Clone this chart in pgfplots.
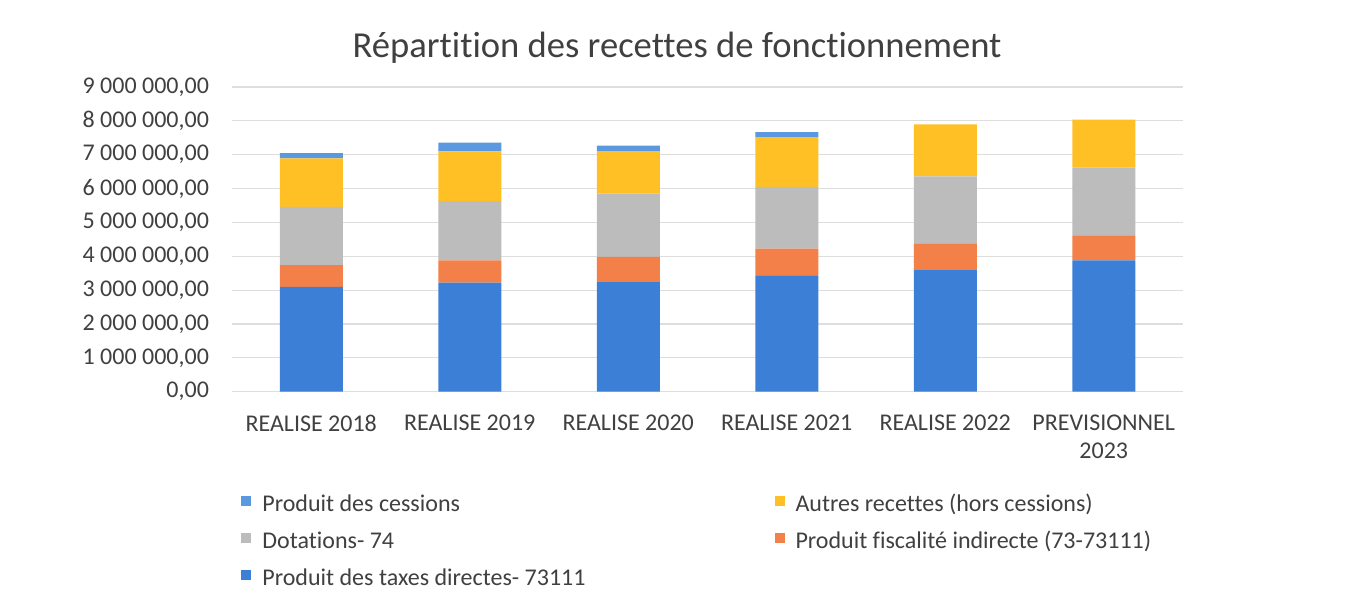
\documentclass[border=0pt]{standalone}
\usepackage{fontspec}
\setmainfont{Carlito}[Ligatures={NoCommon,NoContextual}]
\usepackage{pgfplots}
\pgfplotsset{compat=1.18}
\definecolor{cTax}{RGB}{59,127,214}
\definecolor{cFis}{RGB}{242,128,72}
\definecolor{cDot}{RGB}{188,188,188}
\definecolor{cAut}{RGB}{255,192,38}
\definecolor{cCes}{RGB}{90,152,224}
\definecolor{cTxt}{RGB}{64,64,64}
\definecolor{cGrid}{RGB}{222,222,222}
\begin{document}
\begin{tikzpicture}
\path (0,0) rectangle (677pt,300pt);
\begin{axis}[
  at={(116pt,104.15pt)}, anchor=south west,
  scale only axis, width=475.5pt, height=152.35pt,
  ybar stacked, bar width=31.5pt,
  xmin=-0.5, xmax=5.5, ymin=0, ymax=9000000,
  xtick=data,
  xticklabels={REALISE 2018, REALISE 2019, REALISE 2020, REALISE 2021, REALISE 2022, {PREVISIONNEL\\2023}},
  xticklabel style={align=center, font=\fontsize{12}{14}\selectfont, text=cTxt, yshift=-8pt},
  ytick={0,1000000,2000000,3000000,4000000,5000000,6000000,7000000,8000000,9000000},
  yticklabels={{0,00},{1 000 000,00},{2 000 000,00},{3 000 000,00},{4 000 000,00},{5 000 000,00},{6 000 000,00},{7 000 000,00},{8 000 000,00},{9 000 000,00}},
  yticklabel style={font=\fontsize{12}{14}\selectfont, text=cTxt, xshift=-8pt},
  scaled y ticks=false,
  major tick length=0pt,
  ymajorgrids, grid style={cGrid, line width=0.6pt},
  axis line style={draw=none},
  axis x line*=bottom, axis y line*=left,
  every axis title shift=0pt,
  title={Répartition des recettes de fonctionnement},
  title style={at={(0.468,1.128)}, anchor=center, font=\fontsize{18.3}{22}\selectfont, text=cTxt},
  legend columns=2, reverse legend,
  legend cell align=left,
  legend style={draw=none, at={(0.0095,-0.336)}, anchor=north west, inner sep=0pt,
    font=\fontsize{12}{14}\selectfont, text=cTxt,
    nodes={inner sep=0pt, text height=8.5pt, text depth=3pt},
    row sep=7pt,
    /tikz/every odd column/.append style={column sep=5.5pt},
    /tikz/every even column/.append style={column sep=94.5pt}},
  legend image code/.code={\fill[#1] (0pt,0pt) rectangle (5pt,5pt);},
]
\addplot[fill=cTax, draw=none] coordinates {(0,3100000) (1,3220000) (2,3240000) (3,3420000) (4,3590000) (5,3880000)};
\addlegendentry{Produit des taxes directes- 73111}
\addplot[fill=cFis, draw=none] coordinates {(0,640000) (1,660000) (2,740000) (3,810000) (4,790000) (5,740000)};
\addlegendentry{Produit fiscalité indirecte (73-73111)}
\addplot[fill=cDot, draw=none] coordinates {(0,1720000) (1,1750000) (2,1870000) (3,1820000) (4,1980000) (5,2000000)};
\addlegendentry{Dotations- 74}
\addplot[fill=cAut, draw=none] coordinates {(0,1430000) (1,1470000) (2,1260000) (3,1470000) (4,1540000) (5,1420000)};
\addlegendentry{Autres recettes (hors cessions)}
\addplot[fill=cCes, draw=none] coordinates {(0,160000) (1,260000) (2,160000) (3,150000) (4,0) (5,0)};
\addlegendentry{Produit des cessions}
\end{axis}
\end{tikzpicture}
\end{document}
